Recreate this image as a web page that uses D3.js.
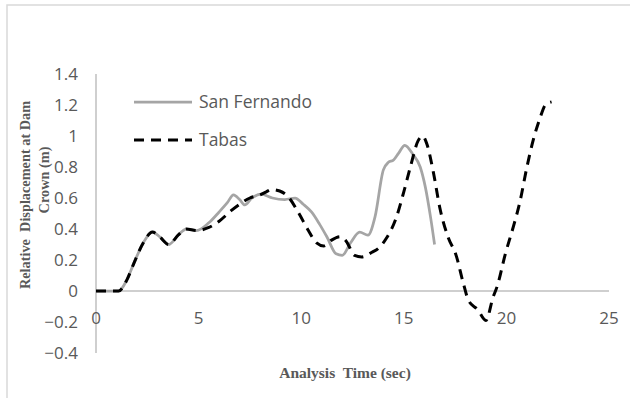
<!DOCTYPE html>
<html><head><meta charset="utf-8">
<script src="https://cdn.jsdelivr.net/npm/d3@7"></script>
<style>html,body{margin:0;padding:0;background:#fff;}svg{display:block;}</style>
</head><body>
<svg id="chart" width="630" height="398"></svg>
<script>
// Data
const sanFernandoT = [0,1.1,1.5,1.85,2.3,2.75,3.1,3.55,4.0,4.4,4.9,5.5,6.0,6.4,6.7,7.0,7.25,7.6,8.05,8.6,9.2,9.7,10.1,10.5,10.9,11.25,11.7,12.0,12.4,12.85,13.25,13.6,14.0,14.25,14.5,14.75,15.05,15.45,15.8,16.05,16.3,16.5];
const sanFernandoV = [0,0,0.07,0.18,0.31,0.38,0.35,0.30,0.36,0.40,0.39,0.44,0.51,0.57,0.62,0.59,0.555,0.60,0.625,0.60,0.59,0.60,0.56,0.51,0.43,0.35,0.24,0.23,0.31,0.38,0.36,0.48,0.78,0.83,0.845,0.89,0.94,0.88,0.80,0.67,0.48,0.30];
const tabasT = [0,1.1,1.5,1.85,2.3,2.75,3.1,3.55,4.0,4.4,4.9,5.5,6.0,6.6,7.0,7.5,8.0,8.3,8.55,8.95,9.35,9.85,10.35,10.75,11.1,11.5,11.9,12.2,12.6,12.95,13.45,13.8,14.15,14.65,15.0,15.3,15.7,15.92,16.12,16.45,16.75,17.15,17.55,17.9,18.15,18.6,19.0,19.35,19.55,19.95,20.35,20.65,21.0,21.3,21.65,21.9,22.2];
const tabasV = [0,0,0.07,0.18,0.31,0.38,0.35,0.30,0.36,0.40,0.39,0.41,0.45,0.52,0.56,0.60,0.62,0.64,0.655,0.645,0.61,0.51,0.39,0.31,0.29,0.33,0.35,0.32,0.23,0.22,0.25,0.28,0.34,0.48,0.64,0.79,0.97,1.0,0.95,0.76,0.54,0.35,0.23,0.05,-0.06,-0.12,-0.19,-0.04,0.03,0.24,0.42,0.57,0.80,0.97,1.12,1.2,1.22];
const xTicks = [0,5,10,15,20,25];
const yTicks = [-0.4,-0.2,0,0.2,0.4,0.6,0.8,1,1.2,1.4];
const seriesNames = ["San Fernando","Tabas"];
const xTitle = "Analysis  Time (sec)";
const yTitleLines = ["Relative  Displacement at Dam","Crown (m)"];

const svg = d3.select("#chart");
// outer frame
svg.append("rect").attr("x",7).attr("y",5).attr("width",640).attr("height",420)
  .attr("fill","none").attr("stroke","#d9d9d9").attr("stroke-width",1.5);

const x = d3.scaleLinear().domain([0,25]).range([96,609]);
const y = d3.scaleLinear().domain([-0.4,1.4]).range([353,74]);

// y axis line
svg.append("line").attr("x1",x(0)).attr("x2",x(0)).attr("y1",y(1.4)).attr("y2",y(-0.4))
  .attr("stroke","#bfbfbf").attr("stroke-width",1.5);
// x axis line at 0
svg.append("line").attr("x1",x(0)).attr("x2",x(25)).attr("y1",y(0)).attr("y2",y(0))
  .attr("stroke","#bfbfbf").attr("stroke-width",1.5);

const tickFont = "'Open Sans', sans-serif";
svg.append("g").selectAll("text").data(yTicks).join("text")
  .attr("x",78).attr("y",d=>y(d)).attr("dy","0.35em").attr("text-anchor","end")
  .attr("font-family",tickFont).attr("font-size",17).attr("fill","#595959")
  .text(d=>d3.format("")(+d.toFixed(1)));
svg.append("g").selectAll("text").data(xTicks).join("text")
  .attr("x",d=>x(d)).attr("y",318).attr("dy","0.35em").attr("text-anchor","middle")
  .attr("font-family",tickFont).attr("font-size",17).attr("fill","#595959")
  .text(d=>d);

// titles
svg.append("text").attr("x",345).attr("y",373).attr("dy","0.35em").attr("text-anchor","middle")
  .attr("font-family","'Liberation Serif','Times New Roman',serif").attr("font-weight","bold")
  .attr("font-size",15.5).attr("fill","#595959").style("white-space","pre").text(xTitle);
const yt = [[25,195],[44,180]];
yTitleLines.forEach((t,i)=>{
  svg.append("text").attr("transform",`translate(${yt[i][0]},${yt[i][1]}) rotate(-90)`)
    .attr("dy","0.35em").attr("text-anchor","middle")
    .attr("font-family","'Liberation Serif','Times New Roman',serif").attr("font-weight","bold")
    .attr("font-size",14.3).attr("fill","#595959").style("white-space","pre").text(t);
});

const line = d3.line().x(d=>x(d[0])).y(d=>y(d[1])).curve(d3.curveMonotoneX);
const sfData = sanFernandoT.map((t,i)=>[t,sanFernandoV[i]]);
const tbData = tabasT.map((t,i)=>[t,tabasV[i]]);

svg.append("path").datum(sfData).attr("d",line).attr("fill","none")
  .attr("stroke","#a5a5a5").attr("stroke-width",2.75).attr("stroke-linejoin","round");
svg.append("path").datum(tbData).attr("d",line).attr("fill","none")
  .attr("stroke","#000").attr("stroke-width",3).attr("stroke-dasharray","10,7");

// legend
const leg = [{y:102,color:"#a5a5a5",dash:null,w:2.75},{y:140,color:"#000",dash:"10,7",w:3}];
leg.forEach((l,i)=>{
  svg.append("line").attr("x1",134).attr("x2",192).attr("y1",l.y).attr("y2",l.y)
    .attr("stroke",l.color).attr("stroke-width",l.w).attr("stroke-dasharray",l.dash);
  svg.append("text").attr("x",199).attr("y",l.y).attr("dy","0.35em")
    .attr("font-family",tickFont).attr("font-size",17.5).attr("fill","#595959").text(seriesNames[i]);
});
</script>
</body></html>
